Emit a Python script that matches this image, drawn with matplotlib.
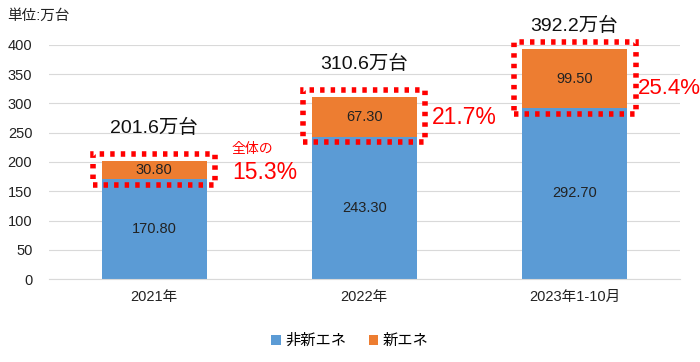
import matplotlib.pyplot as plt
from matplotlib.patches import Rectangle
import numpy as np

plt.rcParams['font.family'] = ['Liberation Sans', 'Noto Sans CJK JP', 'DejaVu Sans']

years = ["2021年", "2022年", "2023年1-10月"]
non_nev = [170.80, 243.30, 292.70]
nev = [30.80, 67.30, 99.50]
totals = ["201.6万台", "310.6万台", "392.2万台"]
shares = ["15.3%", "21.7%", "25.4%"]

blue = "#5B9BD5"
orange = "#ED7D31"
red = "#FF0000"

fig = plt.figure(figsize=(7, 3.62), dpi=100)
ax = fig.add_axes([0.07, 0.229, 0.901, 0.647])
x = np.arange(len(years))
w = 0.5
ax.bar(x, non_nev, w, color=blue, label="非新エネ", zorder=2)
ax.bar(x, nev, w, bottom=non_nev, color=orange, label="新エネ", zorder=2)

for i in range(len(years)):
    ax.text(x[i], non_nev[i] / 2, f"{non_nev[i]:.2f}", ha="center", va="center", fontsize=10.5, color="#222222")
    ax.text(x[i], non_nev[i] + nev[i] / 2, f"{nev[i]:.2f}", ha="center", va="center", fontsize=10.5, color="#222222")
    top = non_nev[i] + nev[i]
    # dotted highlight box around the NEV segment
    lo = non_nev[i] - 10
    hi = top + 12
    ax.add_patch(Rectangle((x[i] - 0.29, lo), 0.58, hi - lo, fill=False, edgecolor=red,
                           linewidth=4, linestyle=(0, (0.8, 1.1)), zorder=3, clip_on=False))
    ax.text(x[i], min(hi + 45, 432), totals[i], ha="center", va="center", fontsize=14, color="#111111",
            clip_on=False)

ax.text(0.37, 222, "全体の", ha="left", va="center", fontsize=10, color=red)
ax.text(0.37, 182, shares[0], ha="left", va="center", fontsize=16.5, color=red)
ax.text(1.32, 276, shares[1], ha="left", va="center", fontsize=16.5, color=red)
ax.text(2.30, 326, shares[2], ha="left", va="center", fontsize=16, color=red)

ax.set_xlim(-0.5, 2.5)
ax.set_ylim(0, 400)
ax.set_yticks(range(0, 401, 50))
ax.set_xticks(x)
ax.set_xticklabels(years)
ax.tick_params(length=0, labelsize=10.5, colors="#222222")
ax.tick_params(axis="x", pad=8)
ax.tick_params(axis="y", pad=12)
ax.yaxis.grid(True, color="#D9D9D9", linewidth=0.8, zorder=0)
ax.set_axisbelow(True)
for s in ["top", "right", "left"]:
    ax.spines[s].set_visible(False)
ax.spines["bottom"].set_color("#D9D9D9")

fig.text(0.01, 0.955, "単位:万台", ha="left", va="center", fontsize=10.5, color="#222222")
fig.legend(loc="lower center", bbox_to_anchor=(0.5, 0.0), ncol=2, frameon=False, fontsize=11,
           handlelength=0.6, handleheight=0.6, handletextpad=0.3, columnspacing=1.5)

fig.savefig("out.png", dpi=100)
